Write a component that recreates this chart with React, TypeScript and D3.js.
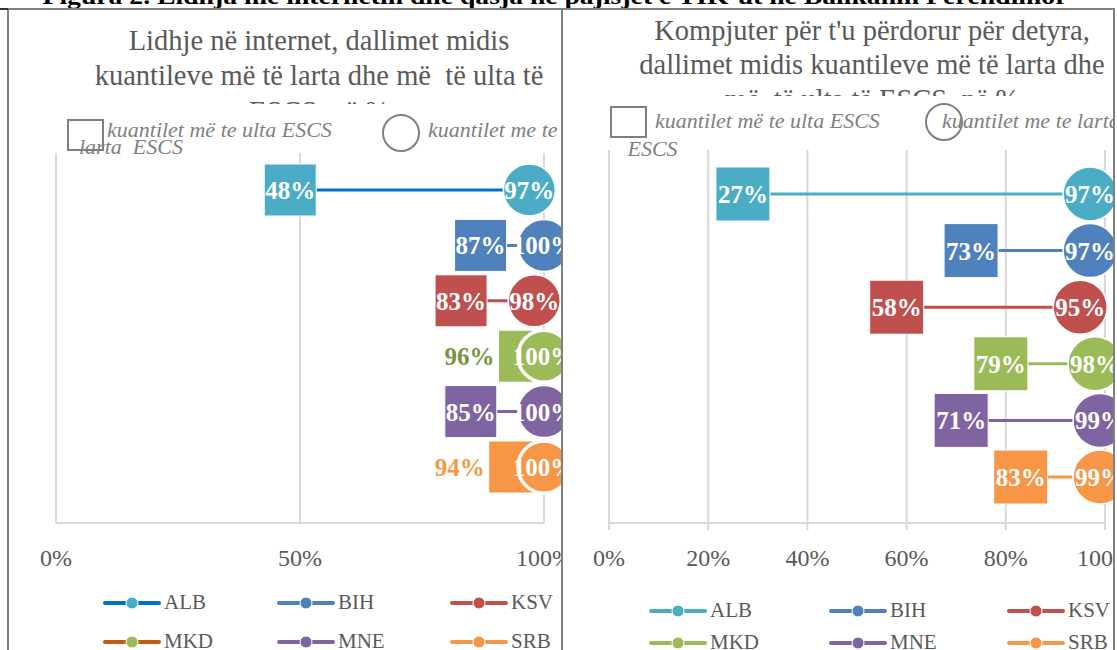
import React from 'react';
import * as d3 from 'd3';

const countries = ['ALB', 'BIH', 'KSV', 'MKD', 'MNE', 'SRB'];

// Lidhje ne internet
const internetLow = [48, 87, 83, 96, 85, 94];
const internetHigh = [97, 100, 98, 100, 100, 100];
const internetTicks = [0, 50, 100];

// Kompjuter per detyra
const computerLow = [27, 73, 58, 79, 71, 83];
const computerHigh = [97, 97, 95, 98, 99, 99];
const computerTicks = [0, 20, 40, 60, 80, 100];

const figureTitle = 'Figura 2. Lidhja me internetin dhe qasja në pajisjet e TIK-ut në Ballkanin Perëndimor';
const internetTitle = ['Lidhje në internet, dallimet midis', 'kuantileve më të larta dhe më  të ulta të', 'ESCS, në %'];
const computerTitle = ["Kompjuter për t'u përdorur për detyra,", 'dallimet midis kuantileve më të larta dhe', 'më  të ulta të ESCS, në %'];
const lowLabel = 'kuantilet më te ulta ESCS';
const highLabel = 'kuantilet me te larta  ESCS';

const seriesColors = ['#4BACC6', '#4F81BD', '#C0504D', '#9BBB59', '#8064A2', '#F79646'];
const internetLineColors = ['#0070C0', '#4F81BD', '#C0504D', '#C55A11', '#8064A2', '#F79646'];
const internetOutside = ['MKD', 'SRB'];
const outsideColors = { MKD: '#77933C', SRB: '#F79646' };

const SERIF = '"Liberation Serif", "DejaVu Serif", serif';
const GRAY = '#595959';

type PanelProps = {
  id: string;
  left: number;
  right: number;
  xPx: [number, number];
  yPx: [number, number];
  plotTop: number;
  plotBottom: number;
  ticks: number[];
  tickMarks: boolean;
  low: number[];
  high: number[];
  lineColors: string[];
  legendLineColors: string[];
  outside: string[];
  title: string[];
  titleCx: number;
  titleY: number[];
  titleClip: number;
  marker: number;
  legendTop: { sq: [number, number]; txt: [number, number]; circ: [number, number]; txt2: [number, number]; wrap: [number, number]; split: number };
  legendCols: number[];
  legendRows: number[];
};

function Panel(p: PanelProps) {
  const x = d3.scaleLinear().domain([0, 100]).range(p.xPx);
  const y = d3.scalePoint<string>().domain(countries).range(p.yPx);
  const half = p.marker / 2;
  const hw = highLabel.split(' ');
  const hiA = hw.slice(0, p.legendTop.split).join(' ');
  const hiB = hw.slice(p.legendTop.split).join(' ');

  return (
    <g>
      <clipPath id={p.id + '-clip'}>
        <rect x={p.left} y={9} width={p.right - p.left} height={650} />
      </clipPath>
      <clipPath id={p.id + '-tclip'}>
        <rect x={p.left} y={9} width={p.right - p.left} height={p.titleClip - 9} />
      </clipPath>
      <g clipPath={`url(#${p.id}-clip)`}>
        <rect x={p.left} y={9} width={p.right - p.left} height={650} fill="#fff" />
        {/* title, third line hidden under the legend */}
        <g clipPath={`url(#${p.id}-tclip)`}>
          {p.title.map((t, i) => (
            <text key={i} x={p.titleCx} y={p.titleY[i]} textAnchor="middle" fontFamily={SERIF} fontSize={28.5} fill={GRAY} style={{ whiteSpace: 'pre' }}>{t}</text>
          ))}
        </g>
        {/* gridlines */}
        {p.ticks.map(t => (
          <line key={t} x1={x(t)} x2={x(t)} y1={p.plotTop} y2={p.tickMarks ? p.plotBottom + 7 : p.plotBottom} stroke="#D9D9D9" strokeWidth={2} />
        ))}
        <line x1={x(0)} x2={x(100)} y1={p.plotBottom} y2={p.plotBottom} stroke="#D9D9D9" strokeWidth={2} />
        {p.ticks.map(t => (
          <text key={'l' + t} x={x(t)} y={p.plotBottom + 43} textAnchor="middle" fontFamily={SERIF} fontSize={24} fill={GRAY}>{t + '%'}</text>
        ))}
        {/* top legend */}
        <rect x={p.legendTop.sq[0]} y={p.legendTop.sq[1]} width={35} height={30} fill="none" stroke="#7F7F7F" strokeWidth={2} />
        <text x={p.legendTop.txt[0]} y={p.legendTop.txt[1]} fontFamily={SERIF} fontStyle="italic" fontSize={22} fill="#7F7F7F">{lowLabel}</text>
        <circle cx={p.legendTop.circ[0]} cy={p.legendTop.circ[1]} r={18} fill="none" stroke="#7F7F7F" strokeWidth={2} />
        <text x={p.legendTop.txt2[0]} y={p.legendTop.txt[1]} fontFamily={SERIF} fontStyle="italic" fontSize={22} fill="#7F7F7F">{hiA}</text>
        <text x={p.legendTop.wrap[0]} y={p.legendTop.wrap[1]} fontFamily={SERIF} fontStyle="italic" fontSize={22} fill="#7F7F7F" style={{ whiteSpace: 'pre' }}>{hiB}</text>
        {/* dumbbells */}
        {countries.map((c, i) => {
          const yy = y(c) as number;
          const xl = x(p.low[i]);
          const xh = x(p.high[i]);
          const overlap = xh - xl < p.marker;
          return (
            <g key={c}>
              <line x1={xl} x2={xh} y1={yy} y2={yy} stroke={p.lineColors[i]} strokeWidth={3} />
              <rect x={xl - half} y={yy - half} width={p.marker} height={p.marker} fill={seriesColors[i]} stroke="#fff" strokeWidth={1} />
              <circle cx={xh} cy={yy} r={half} fill={seriesColors[i]} stroke="#fff" strokeWidth={overlap ? 3.5 : 1.5} />
            </g>
          );
        })}
        {countries.map((c, i) => {
          const yy = (y(c) as number) + 9;
          const xl = x(p.low[i]);
          const out = p.outside.includes(c);
          return (
            <g key={'lab' + c} fontFamily={SERIF} fontWeight="bold" fontSize={25}>
              <text x={out ? xl - half - 4 : xl} y={yy} textAnchor={out ? 'end' : 'middle'} fill={out ? (outsideColors as any)[c] : '#fff'}>{p.low[i] + '%'}</text>
              <text x={x(p.high[i])} y={yy} textAnchor="middle" fill="#fff">{p.high[i] + '%'}</text>
            </g>
          );
        })}
        {/* bottom legend */}
        {countries.map((c, i) => {
          const lx = p.legendCols[i % 3];
          const ly = p.legendRows[Math.floor(i / 3)];
          return (
            <g key={'lg' + c}>
              <line x1={lx} x2={lx + 54} y1={ly} y2={ly} stroke={p.legendLineColors[i]} strokeWidth={4} strokeLinecap="round" />
              <circle cx={lx + 27} cy={ly} r={6} fill={seriesColors[i]} stroke="#fff" strokeWidth={1} />
              <text x={lx + 59} y={ly + 6} fontFamily={SERIF} fontSize={21} fill={GRAY}>{c}</text>
            </g>
          );
        })}
      </g>
      <rect x={p.left} y={9} width={p.right - p.left} height={660} fill="none" stroke="#7F7F7F" strokeWidth={2} />
    </g>
  );
}

export default function App() {
  return (
    <div style={{ position: 'fixed', left: 0, top: 0 }}>
      <svg width={1117} height={650} style={{ display: 'block', background: '#fff' }}>
        <text x={555} y={4} textAnchor="middle" fontFamily={SERIF} fontWeight="bold" fontSize={24} fill="#000" textLength={1025} lengthAdjust="spacingAndGlyphs">{figureTitle}</text>
        <Panel
          id="p1"
          left={8}
          right={562}
          xPx={[56, 544]}
          yPx={[190, 467]}
          plotTop={153}
          plotBottom={523}
          ticks={internetTicks}
          tickMarks={false}
          low={internetLow}
          high={internetHigh}
          lineColors={internetLineColors}
          legendLineColors={internetLineColors}
          outside={internetOutside}
          title={internetTitle}
          titleCx={319}
          titleY={[50, 85, 121]}
          titleClip={104}
          marker={52}
          legendTop={{ sq: [68, 120], txt: [107, 137], circ: [401, 133], txt2: [428, 0], wrap: [79, 154], split: 3 }}
          legendCols={[105, 279, 452]}
          legendRows={[603, 642]}
        />
        <Panel
          id="p2"
          left={562}
          right={1114}
          xPx={[609, 1105]}
          yPx={[194, 477]}
          plotTop={150}
          plotBottom={523}
          ticks={computerTicks}
          tickMarks={true}
          low={computerLow}
          high={computerHigh}
          lineColors={seriesColors}
          legendLineColors={seriesColors}
          outside={[]}
          title={computerTitle}
          titleCx={872}
          titleY={[40, 74, 109]}
          titleClip={96}
          marker={54}
          legendTop={{ sq: [611, 107], txt: [655, 128], circ: [944, 122], txt2: [942, 0], wrap: [622, 156], split: 4 }}
          legendCols={[651, 831, 1009]}
          legendRows={[611, 643]}
        />
        <line x1={0} x2={8} y1={9} y2={9} stroke="#333" strokeWidth={2} />
      </svg>
    </div>
  );
}
